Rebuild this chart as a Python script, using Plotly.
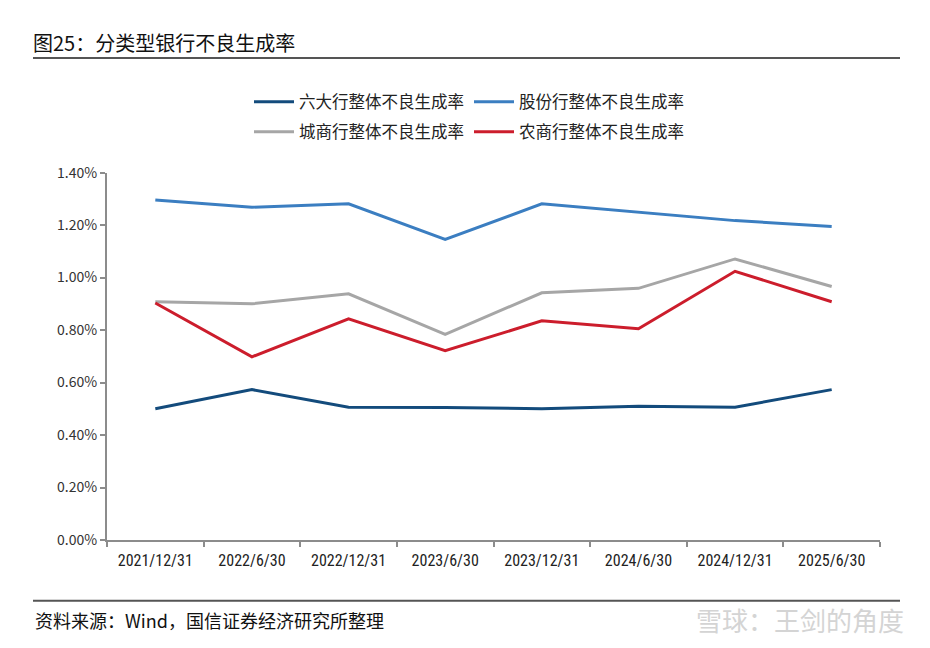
import plotly.graph_objects as go

categories = ["2021/12/31", "2022/6/30", "2022/12/31", "2023/6/30",
              "2023/12/31", "2024/6/30", "2024/12/31", "2025/6/30"]
big6 = [0.500, 0.573, 0.506, 0.505, 0.500, 0.510, 0.506, 0.573]
joint_stock = [1.296, 1.268, 1.281, 1.145, 1.281, 1.250, 1.217, 1.195]
city = [0.908, 0.900, 0.938, 0.784, 0.942, 0.959, 1.071, 0.966]
rural = [0.903, 0.698, 0.843, 0.721, 0.835, 0.805, 1.024, 0.908]

names = ["六大行整体不良生成率", "股份行整体不良生成率", "城商行整体不良生成率", "农商行整体不良生成率"]
colors = ["#134b7c", "#3b7ec1", "#a6a6a6", "#cc1d2c"]
series = [big6, joint_stock, city, rural]
legends = ["legend", "legend", "legend2", "legend2"]

FONT = "Noto Sans CJK SC"
OFF = 8  # page body margin
W, H = 930 - OFF, 648 - OFF
L, T, R, B = 107 - OFF, 171 - OFF, 880 - OFF, 540 - OFF
PW, PH = R - L, B - T

def px(x):
    return (x - OFF - L) / PW

def py(y):
    return (B - (y - OFF)) / PH

fig = go.Figure()
for n, c, s, lg in zip(names, colors, series, legends):
    fig.add_trace(go.Scatter(x=categories, y=s, name=n, mode="lines",
                             line=dict(color=c, width=3), legend=lg))

leg_common = dict(orientation="h", xref="container", yref="container",
                  xanchor="left", yanchor="middle", entrywidth=165,
                  font=dict(family=FONT, size=16.5, color="#222"),
                  bgcolor="rgba(0,0,0,0)", itemwidth=40, tracegroupgap=0)

fig.update_layout(
    width=W, height=H,
    margin=dict(l=L, r=W - R, t=T, b=H - B),
    paper_bgcolor="white", plot_bgcolor="white",
    showlegend=True,
    legend=dict(x=(249 - OFF) / W, y=1 - (102 - OFF) / H, **leg_common),
    legend2=dict(x=(249 - OFF) / W, y=1 - (132 - OFF) / H, **leg_common),
    xaxis=dict(type="category", showline=True, linecolor="#8c8c8c", linewidth=2,
               ticks="outside", tickson="boundaries", ticklen=5, tickcolor="#8c8c8c",
               tickwidth=2, showgrid=False, range=[-0.5, 7.5], ticklabelstandoff=5,
               tickfont=dict(family="Liberation Sans Narrow, Roboto Condensed, " + FONT,
                             size=16, color="#222")),
    yaxis=dict(range=[0, 1.4], dtick=0.2, tickformat=".2f", ticksuffix="%",
               showline=True, linecolor="#8c8c8c", linewidth=2, ticks="outside",
               ticklen=5, tickcolor="#8c8c8c", tickwidth=2, showgrid=False,
               zeroline=False,
               tickfont=dict(family=FONT, size=14, color="#333")),
    font=dict(family=FONT),
)

# title and footer
fig.add_annotation(text="图25：分类型银行不良生成率", xref="paper", yref="paper",
                   x=px(31), y=py(40), xanchor="left", yanchor="middle",
                   showarrow=False, font=dict(family=FONT, size=20, color="#111"))
fig.add_annotation(text="资料来源：Wind，国信证券经济研究所整理", xref="paper", yref="paper",
                   x=px(33), y=py(620), xanchor="left", yanchor="middle",
                   showarrow=False, font=dict(family=FONT, size=18, color="#111"))
fig.add_annotation(text="雪球：王剑的角度", xref="paper", yref="paper",
                   x=px(906), y=py(620), xanchor="right", yanchor="middle",
                   showarrow=False, font=dict(family=FONT, size=26, color="#d4d4d4"))
fig.add_shape(type="line", xref="paper", yref="paper",
              x0=px(33), x1=px(900), y0=py(56), y1=py(56),
              line=dict(color="#555", width=2))
fig.add_shape(type="line", xref="paper", yref="paper",
              x0=px(33), x1=px(900), y0=py(601), y1=py(601),
              line=dict(color="#555", width=2))

fig.write_html("out.html")
